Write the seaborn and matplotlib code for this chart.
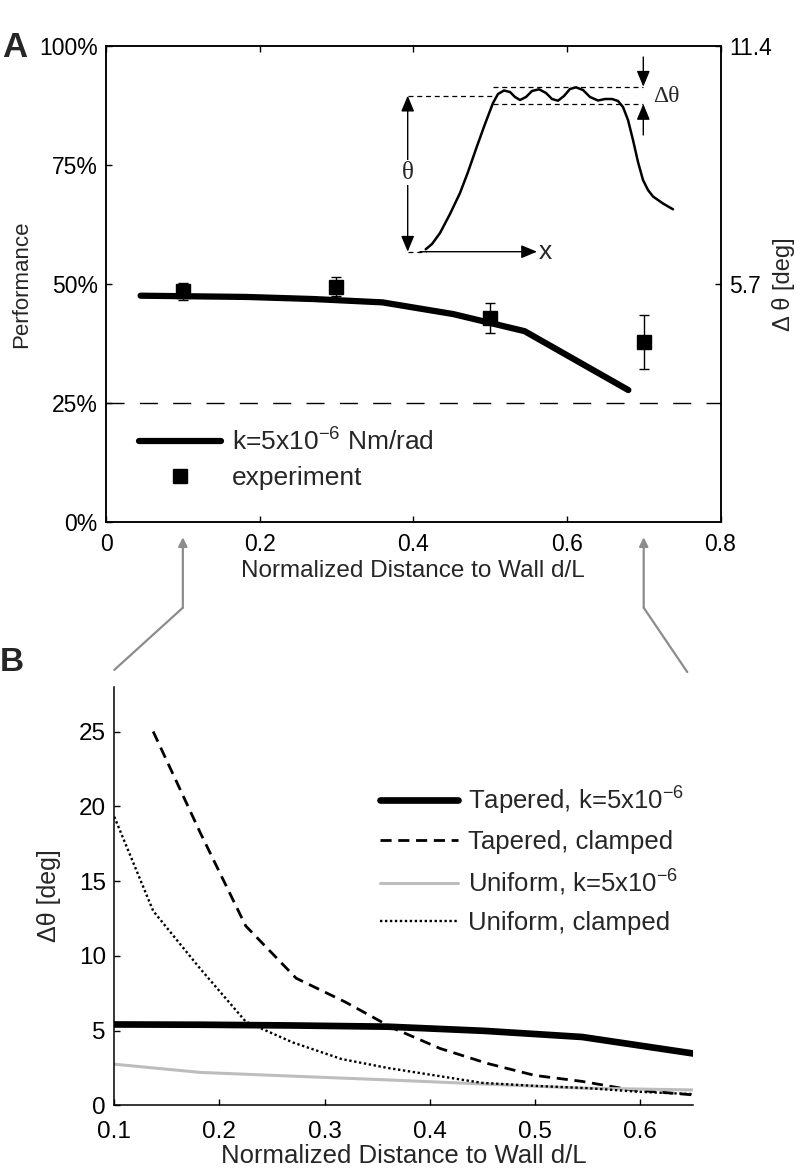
import numpy as np
import pandas as pd
import matplotlib
matplotlib.use("Agg")
import matplotlib.pyplot as plt
import seaborn as sns
from matplotlib.lines import Line2D
from matplotlib.patches import ConnectionPatch
from matplotlib.transforms import blended_transform_factory

# Panel A: model curve (delta theta in deg) and experiment points
model_x = [0.045, 0.183, 0.27, 0.36, 0.452, 0.545, 0.68]
model_deg = [5.42, 5.39, 5.34, 5.26, 4.98, 4.57, 3.16]
exp_x = [0.1, 0.3, 0.5, 0.7]
exp_perf = [0.485, 0.494, 0.429, 0.378]
exp_err = [0.018, 0.020, 0.032, 0.057]
chance = 0.25
deg_full = 11.4
perf_ticks = [0, 0.25, 0.5, 0.75, 1.0]
perf_labels = ["0%", "25%", "50%", "75%", "100%"]
deg_ticks = [5.7, 11.4]
deg_labels = ["5.7", "11.4"]
a_xticks = [0, 0.2, 0.4, 0.6, 0.8]
a_xlabels = ["0", "0.2", "0.4", "0.6", "0.8"]

# Panel B: four model variants
tap_clamp_x = [0.137, 0.182, 0.225, 0.273, 0.32, 0.364, 0.41, 0.455, 0.5, 0.545, 0.59, 0.65]
tap_clamp = [25.0, 18.2, 12.0, 8.5, 6.9, 5.2, 3.8, 2.8, 2.0, 1.6, 1.05, 0.7]
uni_k_x = [0.1, 0.182, 0.27, 0.36, 0.45, 0.545, 0.65]
uni_k = [2.75, 2.2, 1.95, 1.7, 1.43, 1.15, 1.03]
uni_clamp_x = [0.1, 0.137, 0.181, 0.225, 0.27, 0.316, 0.36, 0.405, 0.45, 0.5, 0.55, 0.6, 0.65]
uni_clamp = [19.3, 13.0, 9.2, 5.6, 4.2, 3.1, 2.5, 2.0, 1.5, 1.3, 1.15, 0.9, 0.75]
b_xticks = [0.1, 0.2, 0.3, 0.4, 0.5, 0.6]
b_yticks = [0, 5, 10, 15, 20, 25]
b_labels = ["Tapered, k=5x10$^{-6}$", "Tapered, clamped",
            "Uniform, k=5x10$^{-6}$", "Uniform, clamped"]

# Inset sketch (schematic, in pixel-like units of the inset box)
sketch_x = [425.7, 432, 440, 450, 460, 468, 476.7, 485, 493, 498, 504, 510, 515, 520,
            526, 532, 539, 546, 552, 558, 564, 570, 576, 583, 590, 598, 605, 612, 618,
            623, 628, 633, 638, 643, 648, 653, 663, 673]
sketch_y = [249.3, 244, 233, 214, 193, 172, 147, 124, 103, 94, 90.5, 92, 97, 100,
            97, 91, 89.3, 93, 99, 100.7, 96, 89, 87.3, 90, 97, 100.5, 99, 99, 101,
            107, 120, 140, 162, 180, 190, 196.5, 203.5, 209.3]

sns.set_theme(style="ticks")
plt.rcParams['font.family'] = ['Liberation Sans', 'DejaVu Sans']
plt.rcParams['mathtext.fontset'] = 'custom'
plt.rcParams['mathtext.rm'] = 'Liberation Sans'
plt.rcParams['mathtext.it'] = 'Liberation Sans:italic'
plt.rcParams['axes.linewidth'] = 1.1
plt.rcParams['axes.edgecolor'] = 'black'
plt.rcParams['xtick.color'] = 'black'
plt.rcParams['ytick.color'] = 'black'

fig = plt.figure(figsize=(8.02, 11.76), dpi=100)
ax = fig.add_axes([0.1322, 0.5561, 0.7662, 0.4048])
ax_b = fig.add_axes([0.1425, 0.0601, 0.7210, 0.3560])

# ---------- Panel A ----------
model_perf = [d / deg_full for d in model_deg]
sns.lineplot(x=model_x, y=model_perf, ax=ax, color='black', lw=4.5, legend=False)
ax.errorbar(exp_x, exp_perf, yerr=exp_err, fmt='s', color='black', ms=10,
            elinewidth=1, capsize=3.5, capthick=1)
ax.axhline(chance, color='black', lw=1.0, linestyle=(0, (13, 11)))
ax.set_xlim(0, 0.8)
ax.set_ylim(0, 1)
ax.set_xticks(a_xticks)
ax.set_xticklabels(a_xlabels)
ax.set_yticks(perf_ticks)
ax.set_yticklabels(perf_labels)
ax.tick_params(direction='in', length=4, width=1, labelsize=16.5, top=True, right=True, pad=6)
ax.tick_params(axis='x', pad=8)
ax.set_xlabel("Normalized Distance to Wall d/L", fontsize=17.5, labelpad=3)
ax.set_ylabel("Performance", fontsize=16, labelpad=5)
for s in ax.spines.values():
    s.set_visible(True)

ax_r = ax.twinx()
ax_r.set_ylim(0, deg_full)
ax_r.set_yticks(deg_ticks)
ax_r.set_yticklabels(deg_labels)
ax_r.tick_params(direction='in', length=4, width=1, labelsize=16.5, pad=6)
ax_r.set_ylabel("Δ θ [deg]", fontsize=17, labelpad=0)
ax_r.yaxis.label.set_rotation(90)

handles = [Line2D([], [], color='black', lw=4.5),
           Line2D([], [], color='black', marker='s', ls='none', ms=10)]
ax.legend(handles, ["k=5x10$^{-6}$ Nm/rad", "experiment"], loc='upper left',
          bbox_to_anchor=(0.054, 0.197), frameon=False, borderpad=0, borderaxespad=0,
          fontsize=19, handlelength=3.1, handletextpad=0.42, labelspacing=0.4)

# inset sketch
ins = fig.add_axes([395 / 802, 1 - 265 / 1176, 305 / 802, 220 / 1176])
ins.set_xlim(395, 700)
ins.set_ylim(265, 45)
ins.axis('off')
ins.patch.set_alpha(0)
ins.plot(sketch_x, sketch_y, color='black', lw=1.8)
dash = (0, (4, 3))
ins.plot([493, 643], [86.7, 86.7], color='black', lw=0.9, linestyle=dash)
ins.plot([493, 643], [104, 104], color='black', lw=0.9, linestyle=dash)
ins.plot([408, 493], [95.7, 95.7], color='black', lw=0.9, linestyle=dash)
ins.plot([408, 426], [251.7, 251.7], color='black', lw=0.9, linestyle=dash)
arr = dict(arrowstyle='-|>,head_length=0.6,head_width=0.25', color='black', lw=1.0,
           shrinkA=0, shrinkB=0, mutation_scale=16)
ins.annotate("", xy=(407.7, 95.7), xytext=(407.7, 172), arrowprops=arr)
ins.annotate("", xy=(407.7, 251.7), xytext=(407.7, 172), arrowprops=arr)
ins.text(407.7, 172.7, "θ", family=['Liberation Serif', 'DejaVu Serif'], fontsize=18,
         ha='center', va='center', bbox=dict(facecolor='white', edgecolor='none', pad=1))
ins.annotate("", xy=(643.3, 86.7), xytext=(643.3, 57), arrowprops=arr)
ins.annotate("", xy=(643.3, 104), xytext=(643.3, 135), arrowprops=arr)
ins.text(653, 97, "Δθ", family=['Liberation Serif', 'DejaVu Serif'], fontsize=17,
         ha='left', va='center')
ins.annotate("", xy=(537, 251.7), xytext=(420, 251.7), arrowprops=arr)
ins.text(539, 251.7, "x", fontsize=19, ha='left', va='center')

# ---------- Panel B ----------
sns.lineplot(x=model_x, y=model_deg, ax=ax_b, color='black', lw=4.8, legend=False)
sns.lineplot(x=tap_clamp_x, y=tap_clamp, ax=ax_b, color='black', lw=2.0,
             linestyle=(0, (4, 2.4)), legend=False)
sns.lineplot(x=uni_k_x, y=uni_k, ax=ax_b, color='#bdbdbd', lw=2.2, legend=False)
sns.lineplot(x=uni_clamp_x, y=uni_clamp, ax=ax_b, color='black', lw=1.7,
             linestyle=(0, (1, 1.1)), legend=False)
ax_b.set_xlim(0.1, 0.65)
ax_b.set_ylim(0, 28)
ax_b.set_xticks(b_xticks)
ax_b.set_xticklabels([f"{v:.1f}" for v in b_xticks])
ax_b.set_yticks(b_yticks)
ax_b.tick_params(direction='in', length=4, width=1, labelsize=17.5, pad=6)
ax_b.tick_params(axis='x', pad=11)
ax_b.set_xlabel("Normalized Distance to Wall d/L", fontsize=18.5, labelpad=1)
ax_b.set_ylabel("Δθ [deg]", fontsize=18, labelpad=13)
sns.despine(ax=ax_b)

b_handles = [Line2D([], [], color='black', lw=4.8),
             Line2D([], [], color='black', lw=2.0, linestyle=(0, (4, 2.4))),
             Line2D([], [], color='#bdbdbd', lw=2.2),
             Line2D([], [], color='black', lw=1.7, linestyle=(0, (1, 1.1)))]
ax_b.legend(b_handles, b_labels, loc='upper left', bbox_to_anchor=(0.4595, 0.766),
            frameon=False, borderpad=0, borderaxespad=0, fontsize=18.5,
            handlelength=3.05, handletextpad=0.36, labelspacing=0.52)

# ---------- connectors between panels ----------
gray = '0.55'
tA = blended_transform_factory(ax.transData, ax.transAxes)
tB = blended_transform_factory(ax_b.transData, ax_b.transAxes)
for xa, xb, yb in [(0.1, 0.1, 1.04), (0.7, 0.645, 1.035)]:
    ax.annotate("", xy=(xa, -0.032), xycoords=tA, xytext=(xa, -0.18), textcoords=tA,
                arrowprops=dict(arrowstyle='-|>', color=gray, lw=1.6, shrinkA=0,
                                shrinkB=0, mutation_scale=13), annotation_clip=False)
    con = ConnectionPatch(xyA=(xa, -0.18), coordsA=tA, xyB=(xb, yb), coordsB=tB,
                          color=gray, lw=1.6)
    fig.add_artist(con)

fig.text(2 / 802, 1 - 57 / 1176, "A", fontsize=25, weight='bold', va='baseline')
fig.text(0, 1 - 671 / 1176, "B", fontsize=24, weight='bold', va='baseline')

fig.savefig("out.png", dpi=100)
